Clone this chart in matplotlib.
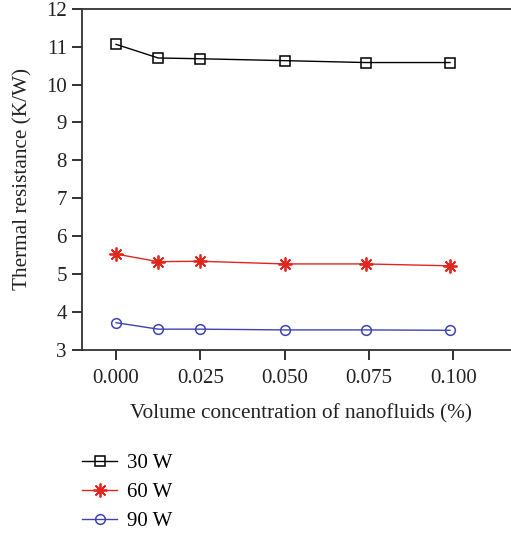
import matplotlib
matplotlib.use("Agg")
import matplotlib.pyplot as plt

x_conc = [0.0, 0.0125, 0.025, 0.05, 0.074, 0.099]
r_30w = [11.06, 10.70, 10.68, 10.63, 10.58, 10.58]
r_60w = [5.53, 5.33, 5.34, 5.27, 5.27, 5.22]
r_90w = [3.72, 3.55, 3.55, 3.53, 3.53, 3.52]
series_labels = ["30 W", "60 W", "90 W"]
x_ticks = [0.000, 0.025, 0.050, 0.075, 0.100]
x_ticklabels = ["0.000", "0.025", "0.050", "0.075", "0.100"]
y_ticks = [3, 4, 5, 6, 7, 8, 9, 10, 11, 12]

plt.rcParams['font.family'] = ['Liberation Serif', 'DejaVu Serif']

fig = plt.figure(figsize=(5.11, 5.33), dpi=100)
ax = fig.add_axes([0.1605, 0.3433, 0.8587, 0.6404])

l1, = ax.plot(x_conc, r_30w, color='black', lw=1.0, marker='s', ms=7,
              mfc='none', mec='black', mew=1.1, label=series_labels[0])
l2, = ax.plot(x_conc, r_60w, color='#e0261e', lw=1.0, marker=(8, 2, 0), ms=10,
              mec='#e0261e', mew=1.3, label=series_labels[1])
l3, = ax.plot(x_conc, r_90w, color='#3f43b0', lw=1.0, marker='o', ms=7,
              mfc='none', mec='#3f43b0', mew=1.1, label=series_labels[2])

ax.set_xlim(-0.0101, 0.12)
ax.set_ylim(3, 12)
ax.set_xticks(x_ticks)
ax.set_xticklabels(x_ticklabels)
ax.set_yticks(y_ticks)
ax.tick_params(axis='both', direction='out', length=7, width=1.3, labelsize=15,
               colors='#222222')
ax.tick_params(axis='x', pad=7)
ax.tick_params(axis='y', pad=4)
for s in ['left', 'bottom', 'top']:
    ax.spines[s].set_linewidth(1.3)
    ax.spines[s].set_color('#333333')
ax.spines['right'].set_visible(False)

ax.set_xlabel("Volume concentration of nanofluids (%)", fontsize=15.3, labelpad=11,
              color='#222222')
ax.set_ylabel("Thermal resistance (K/W)", fontsize=15.3, labelpad=10, color='#222222')

fig.legend(handles=[l1, l2, l3], loc='upper left', bbox_to_anchor=(0.144, 0.165),
           frameon=False, fontsize=15, handlelength=1.7, handletextpad=0.45,
           labelspacing=0.45, borderaxespad=0)

fig.savefig("out.png", dpi=100)
